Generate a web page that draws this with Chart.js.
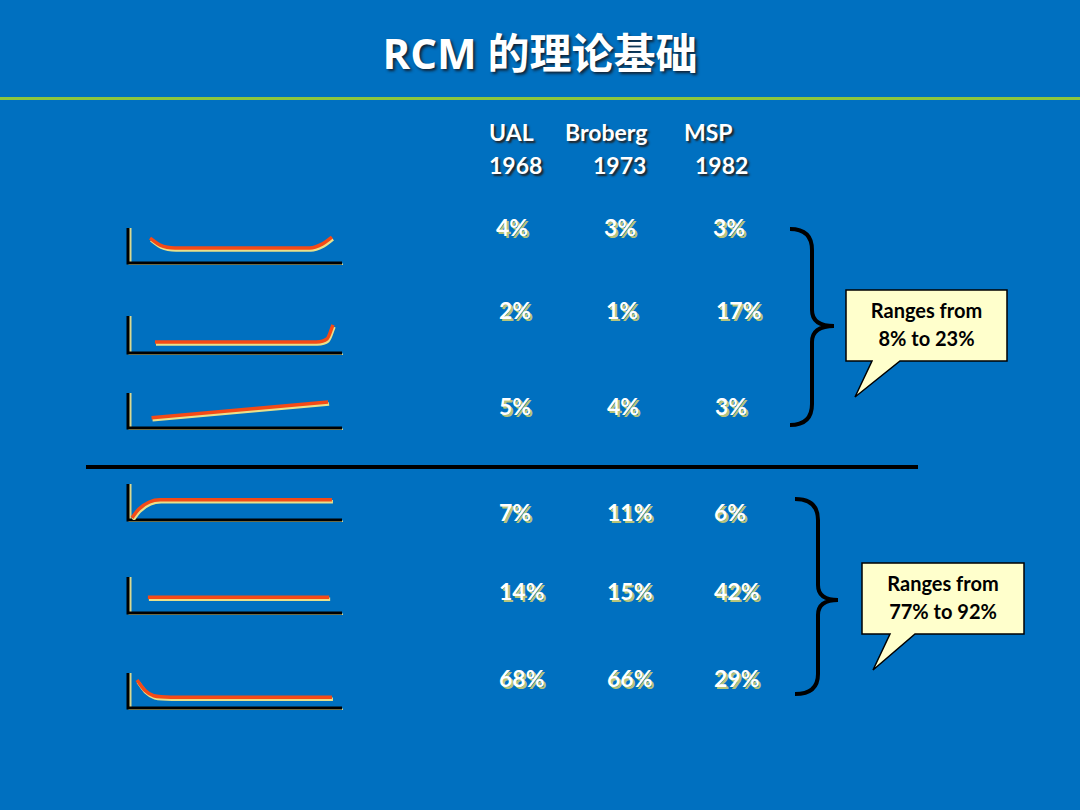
<!DOCTYPE html>
<html><head><meta charset="utf-8">
<script src="https://cdn.jsdelivr.net/npm/chart.js@4"></script>
<style>
body{margin:0;width:1080px;height:810px;background:#0070c0;position:relative;overflow:hidden;font-family:Lato,"Noto Sans CJK SC",sans-serif}
.t{position:absolute;font-weight:bold;color:#fff;white-space:nowrap}
.h{font-size:23px;text-shadow:2px 2px 2px #222}
.p{font-size:23px;text-shadow:2px 2px 0 #b8c47a}
.c{position:absolute}
</style></head><body>
<div class="t" style="left:0;width:1080px;text-align:center;top:20px;font-size:42px;font-family:'Open Sans','Noto Sans CJK SC';text-shadow:2px 2px 3px #123">RCM 的理论基础</div>
<div style="position:absolute;left:0;top:97px;width:1080px;height:3px;background:#8cc63e"></div>
<div style="position:absolute;left:86px;top:465px;width:832px;height:4px;background:#000"></div>
<svg style="position:absolute;left:0;top:0" width="1080" height="810">
<path d="M790,229 Q812,229 812,250 L812,310 Q812,326 834,326 Q812,326 812,342 L812,404 Q812,425 790,425" fill="none" stroke="#000" stroke-width="4"/>
<path d="M795,499 Q818,499 818,520 L818,585 Q818,600 838,600 Q818,600 818,615 L818,674 Q818,694 795,694" fill="none" stroke="#000" stroke-width="4"/>
<path d="M846,290 H1007 V361 H900 L855,397 L872,361 H846 Z" fill="#ffffcc" stroke="#000" stroke-width="1.5"/>
<path d="M862,563 H1024 V634 H915 L873,670 L890,634 H862 Z" fill="#ffffcc" stroke="#000" stroke-width="1.5"/>
</svg>
<div class="t" style="left:846px;width:161px;top:296px;text-align:center;color:#000;font-size:20px;line-height:28px">Ranges from<br>8% to 23%</div>
<div class="t" style="left:862px;width:162px;top:569px;text-align:center;color:#000;font-size:20px;line-height:28px">Ranges from<br>77% to 92%</div>
<div id="tbl"></div>
<script>
const sources=["UAL","Broberg","MSP"];
const years=["1968","1973","1982"];
const UAL=["4%","2%","5%","7%","14%","68%"];
const Broberg=["3%","1%","4%","11%","15%","66%"];
const MSP=["3%","17%","3%","6%","42%","29%"];
const curves=[
 [[10.3,7.1],[15,5.1],[22,4.3],[85,4.3],[90.7,5.4],[95.3,7.4]],
 [[12.6,3.0],[88,3.0],[93,3.8],[95.8,7.6]],
 [[11,2.9],[93.5,7.4]],
 [[1.9,0.6],[5,3.0],[10,5.0],[15,5.6],[20,5.6],[95.3,5.6]],
 [[9.3,4.4],[94,4.4]],
 [[4.2,8.0],[8,5.0],[12,3.5],[20,3.1],[95.3,3.1]]
];
const boxes=[[228,263],[316,353],[393,428],[484,520],[577,613],[673,708]];
const rowsY=[213,296,392,498,577,664];
const colX=[[496,604,713],[499,606,716],[499,607,715],[499,607,714],[499,607,714],[499,607,714]];
let html='';
const hx=[489,565,684],yx=[489,593,695];
sources.forEach((s,i)=>{html+=`<div class="t h" style="left:${hx[i]}px;top:118px">${s}</div><div class="t h" style="left:${yx[i]}px;top:151px">${years[i]}</div>`});
[UAL,Broberg,MSP].forEach((arr,c)=>arr.forEach((v,r)=>{html+=`<div class="t p" style="left:${colX[r][c]}px;top:${rowsY[r]}px">${v}</div>`}));
document.getElementById('tbl').innerHTML=html;
const axes={id:'axes',beforeDatasetsDraw(ch){const a=ch.chartArea,x=ch.ctx;x.save();
 x.strokeStyle='#d8d890';x.lineWidth=3;x.beginPath();x.moveTo(a.left+2,a.top);x.lineTo(a.left+2,a.bottom+2);x.lineTo(a.right+1,a.bottom+2);x.stroke();
 x.strokeStyle='#000';x.beginPath();x.moveTo(a.left,a.top);x.lineTo(a.left,a.bottom);x.lineTo(a.right,a.bottom);x.stroke();x.restore();},
 beforeDatasetDraw(ch){const x=ch.ctx;x.save();x.shadowColor='#e8e08a';x.shadowOffsetY=2;x.shadowOffsetX=1;x.shadowBlur=0;},
 afterDatasetDraw(ch){ch.ctx.restore();}};
curves.forEach((pts,i)=>{const [t,b]=boxes[i];
 const wrap=document.createElement('div');wrap.style.cssText=`position:absolute;left:126px;top:${t-2}px;width:218px;height:${b-t+4}px`;
 const cv=document.createElement('canvas');cv.width=218;cv.height=b-t+4;wrap.appendChild(cv);document.body.appendChild(wrap);
 new Chart(cv,{type:'line',data:{datasets:[{data:pts.map(p=>({x:p[0],y:p[1]})),borderColor:'#f44a16',borderWidth:3.5,pointRadius:0,cubicInterpolationMode:'monotone'}]},
  options:{responsive:false,animation:false,layout:{padding:2},plugins:{legend:{display:false},tooltip:{enabled:false}},
   scales:{x:{type:'linear',min:0,max:100,display:false},y:{min:0,max:10,display:false}}},plugins:[axes]});
});
</script>
</body></html>
